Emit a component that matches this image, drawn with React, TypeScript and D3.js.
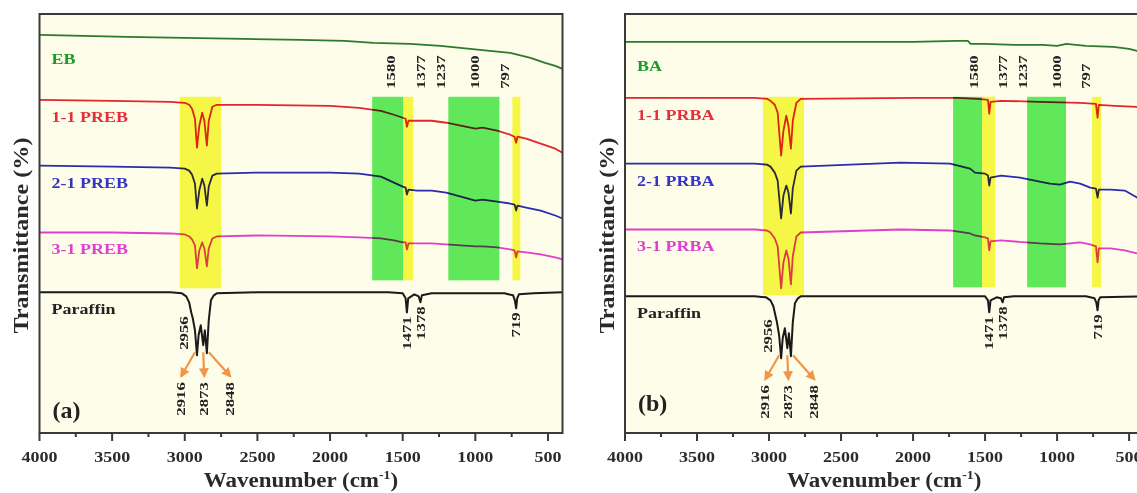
import React from 'react';
import * as d3 from 'd3';

type Pt = [number, number];

// spectra: [wavenumber (cm-1), transmittance (stacked, a.u.)]
const ebA: Pt[] = [[4000,99.75],[3700,99.5],[3400,99.25],[3000,99],[2600,98.75],[2200,98.5],[1900,98.25],[1700,97.75],[1450,97.5],[1240,97],[1035,96.25],[900,95.75],[760,95.25],[620,94],[520,92.75],[450,92],[400,91.25]];
const preb11: Pt[] = [[4000,83.5],[3500,83.25],[3100,83],[3000,82.75],[2970,82.25],[2950,81.25],[2930,78.75],[2916,71.5],[2900,77],[2880,80.25],[2865,78.25],[2848,72],[2835,78.25],[2810,81.75],[2780,82.25],[2500,82.25],[2000,82],[1800,81.5],[1650,80.75],[1560,79.75],[1500,79],[1480,78.75],[1471,76.75],[1460,78.25],[1400,78.25],[1300,78.25],[1200,77.75],[1100,77],[1000,76.25],[950,76.5],[850,75.75],[760,74.75],[730,74.25],[719,72.75],[710,74.25],[650,73.75],[550,72.5],[450,71.25],[400,70.25]];
const preb21: Pt[] = [[4000,67],[3500,66.75],[3100,66.5],[3000,66.25],[2970,65.75],[2950,64.75],[2930,62.5],[2916,56.25],[2900,60.75],[2880,63.75],[2865,62],[2848,57],[2835,61.75],[2810,64.5],[2780,65],[2500,65.25],[2000,65.25],[1800,65],[1650,64.25],[1560,62.75],[1500,61.75],[1480,61.5],[1471,59.75],[1460,61],[1400,60.75],[1300,60.75],[1200,60.25],[1100,59.25],[1000,58.25],[950,58.5],[850,58],[760,57.5],[730,57.25],[719,55.75],[710,57],[650,56.5],[550,55.75],[450,54.5],[400,53.75]];
const preb31: Pt[] = [[4000,50.25],[3500,50.25],[3100,50],[3000,49.75],[2970,49.25],[2950,48.5],[2930,47],[2916,41.25],[2900,45.75],[2880,47.75],[2865,46.25],[2848,41.75],[2835,46.25],[2810,48.75],[2780,49.25],[2500,49.5],[2000,49.25],[1800,49],[1650,48.75],[1560,48.25],[1500,47.75],[1480,47.75],[1471,46],[1460,47.5],[1400,47.5],[1300,47.5],[1200,47.25],[1100,47],[1000,46.75],[950,46.75],[850,46.5],[760,46],[730,45.75],[719,44],[710,45.5],[650,45.25],[550,44.75],[450,44],[400,43.5]];
const paraffinA: Pt[] = [[4000,35.25],[3500,35.25],[3100,35.25],[3020,35],[2990,34.25],[2970,32.75],[2956,30.25],[2945,28.75],[2930,25.75],[2916,19.5],[2905,24.5],[2890,27],[2873,22],[2862,25.75],[2848,20],[2835,28.25],[2820,33.25],[2800,34.5],[2780,35],[2500,35.25],[2000,35.25],[1600,35.25],[1500,35],[1480,33.75],[1471,30.25],[1462,33.75],[1420,34.75],[1390,34.25],[1378,32.75],[1368,34.5],[1300,35],[1000,35],[800,35],[740,34.5],[728,33.25],[719,31.25],[712,33.75],[700,34.75],[600,35],[400,35.25]];

const baB: Pt[] = [[4000,98],[3000,98],[2000,98],[1700,98.25],[1620,98.25],[1600,97.5],[1500,97.5],[1300,97.25],[1100,97.25],[1000,97],[935,97.5],[800,97],[610,96.75],[500,96.25],[445,95.75],[400,95.5]];
const prba11: Pt[] = [[4000,84],[3100,84],[3014,83.75],[2990,83.25],[2960,82.25],[2940,80.25],[2916,69.5],[2900,75.75],[2880,79.5],[2865,77],[2848,71.25],[2835,78.25],[2810,82.75],[2780,83.75],[2000,84],[1700,84],[1550,83.75],[1480,83.5],[1471,80],[1462,83],[1390,83.25],[1120,83],[840,82.75],[730,82.5],[719,79],[710,82.25],[600,82],[445,81.75],[400,81.5]];
const prba21: Pt[] = [[4000,67.5],[3100,67.5],[3014,67.25],[2990,66.75],[2960,65.25],[2940,63.25],[2916,53.75],[2900,59.5],[2880,62],[2865,60.25],[2848,55],[2835,61.25],[2810,65.75],[2780,66.75],[2090,67.75],[1743,67.5],[1604,66.25],[1570,65.25],[1500,65],[1480,64.5],[1471,62],[1462,64],[1390,64.5],[1257,64],[1120,63],[1050,62.5],[980,62.25],[910,63],[840,62.5],[770,61.5],[730,61.25],[719,59],[710,61],[630,61],[530,60.75],[445,59],[400,58.5]];
const prba31: Pt[] = [[4000,51],[3100,51],[3014,50.75],[2990,50.25],[2960,48.75],[2940,46.75],[2916,36.25],[2900,42.75],[2880,45.75],[2865,43.75],[2848,37.25],[2835,44.25],[2810,49.25],[2780,50.25],[2090,51],[1743,50.75],[1604,50],[1570,49.5],[1500,49],[1480,48.75],[1471,45.75],[1462,48],[1390,48.25],[1120,47.5],[980,47.25],[840,47.75],[770,47.25],[730,46.75],[719,42.75],[710,46.25],[630,46.25],[530,45.75],[445,45],[400,44.75]];
const paraffinB: Pt[] = [[4000,34.25],[3100,34.25],[3020,34],[2990,33.25],[2970,31.75],[2956,29.5],[2945,27.75],[2930,24.5],[2916,18.75],[2905,23.75],[2890,26.25],[2873,21.25],[2862,25],[2848,19.25],[2835,27.75],[2820,32.5],[2800,33.75],[2780,34.25],[2000,34.25],[1500,34.25],[1480,33.25],[1471,30.25],[1462,33.25],[1420,34],[1390,33.75],[1378,32.75],[1368,34],[1300,34.25],[800,34.25],[740,33.75],[728,32.75],[719,30.75],[712,33.25],[700,34],[400,34.25]];

const namesA = ['EB', '1-1 PREB', '2-1 PREB', '3-1 PREB', 'Paraffin'];
const namesB = ['BA', '1-1 PRBA', '2-1 PRBA', '3-1 PRBA', 'Paraffin'];
const lineColors = ['#2d7a2d', '#e3262d', '#2b2bb0', '#e03fcb', '#1a1a1a'];
const labelColors = ['#1e9a28', '#e5303a', '#3535c2', '#e040d2', '#222222'];

// highlighted regions [from, to] in cm-1
const yellowA: Pt[] = [[3035, 2750], [1497, 1428], [745, 690]];
const greenA: Pt[] = [[1710, 1497], [1186, 834]];
const yellowB: Pt[] = [[3042, 2757], [1521, 1430], [757, 694]];
const greenB: Pt[] = [[1722, 1521], [1208, 938]];

const topPeaks = [1580, 1377, 1237, 1000, 797];
const paraffinPeaks = [2956, 1471, 1378, 719];
const chPeaks = [2916, 2873, 2848];
const xTicks = [4000, 3500, 3000, 2500, 2000, 1500, 1000, 500];
const xMinor = [3750, 3250, 2750, 2250, 1750, 1250, 750];

const FONT = '"Liberation Serif", "Times New Roman", serif';
const ORANGE = '#f0964a';

const Panel = ({ left, right, series, names, yellow, green, bandLow, tag, tagY }: any) => {
  const top = 14;
  const bottom = 433;
  const x = d3.scaleLinear([4000, 400], [left, right]);
  const y = d3.scaleLinear([0, 105], [bottom, top]);
  const line = d3.line<Pt>().x(d => x(d[0])).y(d => y(d[1]));
  const bandTop = 84.25;
  const paraffin: Pt[] = series[4];
  const valAt = (wn: number) => (paraffin.find(p => p[0] === wn) || [wn, 35])[1];
  const minPar = d3.min(paraffin, d => d[1]) as number;
  const spread = [-22, 1, 27];
  const mid = (left + right) / 2;

  return (
    <g>
      <rect x={left} y={top} width={right - left} height={bottom - top} fill="#fdfde9" />
      {series.map((s: Pt[], i: number) => (
        <path key={i} d={line(s) || ''} fill="none" stroke={lineColors[i]} strokeWidth={i === 4 ? 2 : 1.8} strokeLinejoin="round" />
      ))}
      <g style={{ mixBlendMode: 'multiply' }}>
        {yellow.map((b: Pt, i: number) => (
          <rect key={'y' + i} x={x(b[0])} width={x(b[1]) - x(b[0])} y={y(bandTop)}
            height={y(i === 0 ? bandLow - 2 : bandLow) - y(bandTop)} fill="#f8f84e" />
        ))}
        {green.map((b: Pt, i: number) => (
          <rect key={'g' + i} x={x(b[0])} width={x(b[1]) - x(b[0])} y={y(bandTop)}
            height={y(bandLow) - y(bandTop)} fill="#62ea62" />
        ))}
      </g>

      {/* sample names */}
      {series.map((s: Pt[], i: number) => (
        <text key={'n' + i} transform={`translate(${left + 12},${y(s[0][1]) + (i === 0 ? 29 : 22)}) scale(1.2,1)`}
          fill={labelColors[i]} fontFamily={FONT} fontWeight="bold" fontSize={15}>{names[i]}</text>
      ))}

      {/* band labels */}
      {topPeaks.map(p => (
        <text key={'t' + p} transform={`translate(${x(p)},${y(bandTop) - 8}) rotate(-90) scale(1.4,1)`}
          fontFamily={FONT} fontWeight="bold" fontSize={12} fill="#222" dominantBaseline="central">{p}</text>
      ))}

      {/* paraffin peaks */}
      {paraffinPeaks.map(p => (
        <text key={'p' + p} transform={`translate(${x(p) + (p === 2956 ? -7 : 0)},${y(valAt(p)) + 4}) rotate(-90) scale(1.4,1)`}
          fontFamily={FONT} fontWeight="bold" fontSize={12} fill="#222" textAnchor="end" dominantBaseline="central">{p}</text>
      ))}
      {chPeaks.map((p, i) => {
        const lx = x(2873) + spread[i];
        const ly = y(minPar) + 27;
        return (
          <g key={'c' + p}>
            <line x1={x(p) + (i - 1) * 2} y1={y(minPar) - 3} x2={lx} y2={ly - 6}
              stroke={ORANGE} strokeWidth={2.2} markerEnd="url(#arr)" />
            <text transform={`translate(${lx},${ly}) rotate(-90) scale(1.4,1)`}
              fontFamily={FONT} fontWeight="bold" fontSize={12} fill="#222" textAnchor="end" dominantBaseline="central">{p}</text>
          </g>
        );
      })}

      <text x={left + 13} y={tagY} fontFamily={FONT} fontWeight="bold" fontSize={24} fill="#222">{tag}</text>

      {/* frame and axis */}
      <rect x={left} y={top} width={right - left} height={bottom - top} fill="none" stroke="#3a3a3a" strokeWidth={2} />
      {xTicks.map(t => (
        <g key={'k' + t}>
          <line x1={x(t)} x2={x(t)} y1={bottom} y2={bottom + 8} stroke="#3a3a3a" strokeWidth={2} />
          <text transform={`translate(${x(t)},${bottom + 29}) scale(1.2,1)`} textAnchor="middle"
            fontFamily={FONT} fontWeight="bold" fontSize={15} fill="#2a2a2a">{t}</text>
        </g>
      ))}
      {xMinor.map(t => (
        <line key={'m' + t} x1={x(t)} x2={x(t)} y1={bottom} y2={bottom + 4} stroke="#3a3a3a" strokeWidth={2} />
      ))}

      <text transform={`translate(${mid},${bottom + 54}) scale(1.15,1)`} textAnchor="middle"
        fontFamily={FONT} fontWeight="bold" fontSize={20} fill="#2a2a2a">
        Wavenumber (cm<tspan fontSize={12} dy={-8}>-1</tspan><tspan dy={8}>)</tspan>
      </text>
      <text transform={`translate(${left - 18},${(top + bottom) / 2 + 12}) rotate(-90) scale(1.15,1)`} textAnchor="middle"
        dominantBaseline="central" fontFamily={FONT} fontWeight="bold" fontSize={21} fill="#2a2a2a">Transmittance (%)</text>
    </g>
  );
};

export default function App() {
  return (
    <div style={{ position: 'absolute', left: 0, top: 0, background: '#fff' }}>
      <svg width={1137} height={493} viewBox="0 0 1137 493">
        <defs>
          <marker id="arr" viewBox="0 0 10 10" refX={8} refY={5} markerWidth={4.5} markerHeight={4.5} orient="auto">
            <path d="M0,0 L10,5 L0,10 z" fill={ORANGE} />
          </marker>
        </defs>
        <rect width={1137} height={493} fill="#fff" />
        <Panel left={39.5} right={562.5} series={[ebA, preb11, preb21, preb31, paraffinA]} names={namesA}
          yellow={yellowA} green={greenA} bandLow={38.25} tag="(a)" tagY={418} />
        <Panel left={625} right={1143.5} series={[baB, prba11, prba21, prba31, paraffinB]} names={namesB}
          yellow={yellowB} green={greenB} bandLow={36.5} tag="(b)" tagY={411} />
      </svg>
    </div>
  );
}
